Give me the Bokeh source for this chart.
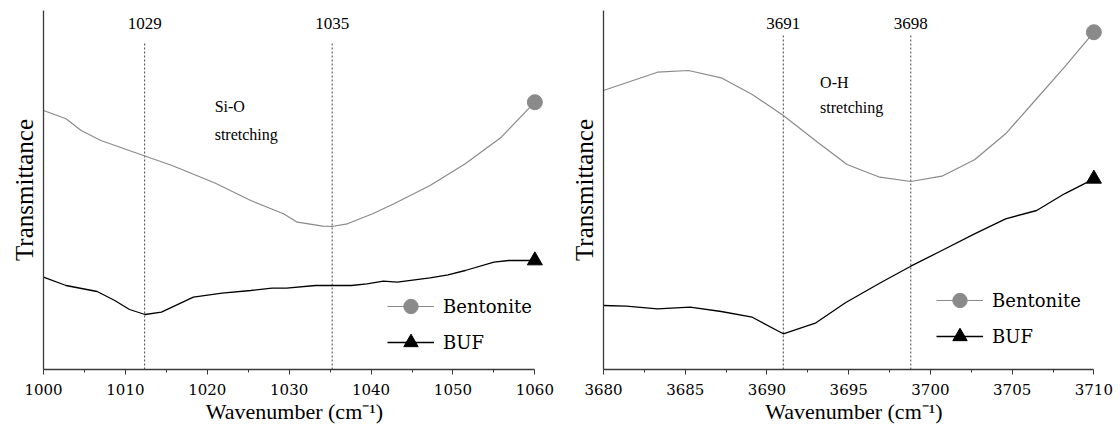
from bokeh.plotting import figure
from bokeh.layouts import row
from bokeh.models import FixedTicker, Legend, LegendItem, Range1d
from bokeh.embed import file_html
from bokeh.resources import INLINE
from bokeh.core.properties import value

# ---------------- data ----------------
# Left panel: Si-O stretching region
si_wn_bentonite = [1000.0, 1002.75, 1004.6, 1007.0, 1012.2, 1015.7, 1021.0, 1025.3, 1029.3,
                   1031.0, 1034.1, 1035.2, 1037.1, 1040.2, 1042.8, 1047.2, 1051.5, 1055.9, 1060.0]
si_t_bentonite = [259, 250.7, 239, 229, 214, 204, 186.3, 169, 155.7,
                  147.3, 143.3, 143, 145.7, 155.7, 165.7, 184, 205.7, 232.3, 267.3]
si_wn_buf = [1000.0, 1002.75, 1006.55, 1008.7, 1010.5, 1012.4, 1014.4, 1018.3, 1021.8, 1025.3,
             1027.9, 1029.7, 1033.2, 1037.6, 1039.5, 1041.5, 1043.2, 1047.2, 1049.4, 1051.5,
             1055.0, 1056.8, 1060.0]
si_t_buf = [92.3, 84, 78, 69, 60, 55, 57.3, 72.3, 76.3, 79,
            81.3, 81.3, 84, 84, 85.7, 88.3, 87.3, 91.7, 94.7, 99,
            107.3, 109, 109]
si_peaks = [1012.35, 1035.25]
si_peak_labels = ["1029", "1035"]
si_ticks = [1000, 1010, 1020, 1030, 1040, 1050, 1060]
si_minor = [1005, 1015, 1025, 1035, 1045, 1055]

# Right panel: O-H stretching region
oh_wn_bentonite = [3680.0, 3683.3, 3685.2, 3687.2, 3689.1, 3691.0, 3693.1, 3694.9, 3696.9,
                   3698.8, 3700.7, 3702.7, 3704.6, 3706.4, 3708.2, 3710.0]
oh_t_bentonite = [279, 297.3, 299, 291.7, 275, 254, 227.3, 205, 192.3,
                  188, 193.3, 209.7, 235.7, 269, 302.3, 337.3]
oh_wn_buf = [3680.0, 3681.4, 3683.3, 3685.3, 3687.2, 3689.1, 3691.0, 3693.0, 3694.8,
             3697.0, 3698.8, 3700.7, 3702.7, 3704.6, 3706.5, 3708.2, 3710.0]
oh_t_buf = [64, 63.3, 60.7, 62.3, 58, 52.3, 35.7, 46.7, 66.7,
            87.3, 103.3, 119, 135.7, 150.7, 159, 175.7, 190.7]
oh_peaks = [3691.0, 3698.8]
oh_peak_labels = ["3691", "3698"]
oh_ticks = [3680, 3685, 3690, 3695, 3700, 3705, 3710]
oh_minor = [3682.5, 3687.5, 3692.5, 3697.5, 3702.5, 3707.5]

FONT = "Liberation Serif"
FONT2 = "DejaVu Serif"
GRAY = "#8a8a8a"
AXIS = "#3a3a3a"


def make_panel(x_range, x_pad, border_right, wn_b, t_b, wn_u, t_u, peaks, peak_labels,
               peak_top, band_x, band_name, band_y, ticks, minor, leg_loc):
    p = figure(width=560, height=430, output_backend="svg", toolbar_location=None,
               x_range=Range1d(x_range[0], x_range[1] + x_pad), y_range=Range1d(0, 359),
               min_border_left=43, min_border_right=border_right,
               min_border_top=10, min_border_bottom=61)
    p.outline_line_color = None
    p.grid.visible = False
    p.background_fill_color = "white"
    p.border_fill_color = "white"

    # x axis
    xa = p.xaxis[0]
    xa.bounds = x_range
    xa.ticker = FixedTicker(ticks=ticks, minor_ticks=minor)
    xa.axis_line_color = AXIS
    xa.axis_line_width = 1.3
    xa.major_tick_line_color = AXIS
    xa.minor_tick_line_color = AXIS
    xa.major_tick_out = 5
    xa.major_tick_in = 0
    xa.minor_tick_out = 3
    xa.minor_tick_in = 0
    xa.major_label_text_font = FONT2
    xa.major_label_text_font_style = "normal"
    xa.major_label_text_font_size = "15px"
    xa.major_label_text_color = "black"
    xa.major_label_standoff = 9
    xa.axis_label = "Wavenumber (cm\u207b\u00b9)"
    xa.axis_label_text_font = FONT
    xa.axis_label_text_font_size = "22px"
    xa.axis_label_text_font_style = "normal"
    xa.axis_label_text_color = "black"
    xa.axis_label_standoff = 1

    # y axis (line only)
    ya = p.yaxis[0]
    ya.ticker = FixedTicker(ticks=[])
    ya.axis_line_color = AXIS
    ya.axis_line_width = 1.3
    ya.major_tick_line_color = None
    ya.minor_tick_line_color = None
    ya.axis_label = "Transmittance"
    ya.axis_label_text_font = FONT
    ya.axis_label_text_font_size = "25px"
    ya.axis_label_text_font_style = "normal"
    ya.axis_label_text_color = "black"
    ya.axis_label_standoff = 6

    # peak marker lines
    p.segment(x0=peaks, x1=peaks, y0=[0] * len(peaks), y1=[peak_top] * len(peaks),
              line_color="#444444", line_width=1, line_dash="2 2")
    p.text(x=peaks, y=[346] * len(peaks), text=peak_labels, text_align="center",
           text_baseline="middle", text_font=value(FONT), text_font_size="17px",
           text_color="black")

    # band annotation
    p.text(x=[band_x, band_x], y=band_y, text=[band_name, "stretching"],
           text_align="left", text_baseline="middle", text_font=value(FONT),
           text_font_size="16px", text_color="black")

    # series
    lb = p.line(wn_b, t_b, line_color=GRAY, line_width=1.2)
    mb = p.scatter([wn_b[-1]], [t_b[-1]], marker="circle", size=15,
                   fill_color=GRAY, line_color=GRAY)
    lu = p.line(wn_u, t_u, line_color="black", line_width=1.3)
    mu = p.scatter([wn_u[-1]], [t_u[-1]], marker="triangle", size=15,
                   fill_color="black", line_color="black")

    legend = Legend(items=[LegendItem(label="Bentonite", renderers=[lb, mb]),
                           LegendItem(label="BUF", renderers=[lu, mu])],
                    location=leg_loc, orientation="vertical",
                    glyph_width=47, glyph_height=36, spacing=-11,
                    padding=0, margin=0, label_standoff=9,
                    label_text_font=FONT2, label_text_font_style="normal",
                    label_text_font_size="18px",
                    label_text_color="black",
                    border_line_color=None, background_fill_alpha=0)
    p.add_layout(legend)
    return p


p1 = make_panel((1000, 1060), 1.3, 15, si_wn_bentonite, si_t_bentonite, si_wn_buf, si_t_buf,
                si_peaks, si_peak_labels, 327, 1020.9, "Si-O", [263, 235],
                si_ticks, si_minor, (344, 9))
p2 = make_panel((3680, 3710), 0.65, 16, oh_wn_bentonite, oh_t_bentonite, oh_wn_buf, oh_t_buf,
                oh_peaks, oh_peak_labels, 334, 3693.25, "O-H", [287, 262],
                oh_ticks, oh_minor, (333, 15))

layout = row(p1, p2, spacing=0)
open("out.html", "w").write(file_html(layout, INLINE))
